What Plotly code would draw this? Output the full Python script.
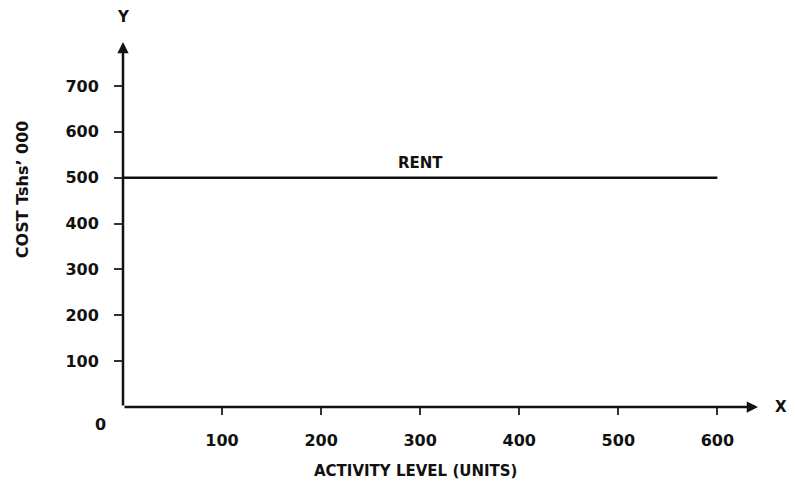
import plotly.graph_objects as go

# Data
activity = [0, 600]
rent = [500, 500]
x_ticks = [100, 200, 300, 400, 500, 600]
y_ticks = [100, 200, 300, 400, 500, 600, 700]
line_label = "RENT"
x_title = "ACTIVITY LEVEL (UNITS)"
y_title = "COST Tshs’ 000"

FONT = "DejaVu Sans"
X_MAX = 641
Y_MAX = 796

fig = go.Figure()
fig.add_trace(go.Scatter(x=activity, y=rent, mode="lines",
                         line=dict(color="#111", width=2.5),
                         showlegend=False, hoverinfo="skip", cliponaxis=False))

# page body has a default 8px margin, so the figure is shrunk to fit
fig.update_layout(
    width=779, height=473,
    margin=dict(l=115, r=29, t=34, b=74, autoexpand=False),
    plot_bgcolor="white", paper_bgcolor="white",
    font=dict(family=FONT, color="#111", size=16, weight="bold"),
    xaxis=dict(range=[0, X_MAX], tickvals=x_ticks, ticktext=[str(v) for v in x_ticks],
               showgrid=False, zeroline=False, showline=False, automargin=False,
               ticks="outside", ticklen=7, tickwidth=1.5, tickcolor="#333",
               tickfont=dict(size=16, family=FONT, weight="bold"), ticklabelstandoff=12),
    yaxis=dict(range=[0, Y_MAX], tickvals=y_ticks, ticktext=[str(v) for v in y_ticks],
               showgrid=False, zeroline=False, showline=False, automargin=False,
               ticks="outside", ticklen=8, tickwidth=1.5, tickcolor="#333",
               tickfont=dict(size=16, family=FONT, weight="bold"), ticklabelstandoff=12),
)

# axes with arrows
fig.add_annotation(x=X_MAX, y=0, ax=0, ay=0, xref="x", yref="y", axref="x", ayref="y",
                   text="", showarrow=True, arrowhead=2, arrowsize=0.9, arrowwidth=2.5,
                   arrowcolor="#111", standoff=0, startstandoff=0)
fig.add_annotation(x=0, y=Y_MAX, ax=0, ay=0, xref="x", yref="y", axref="x", ayref="y",
                   text="", showarrow=True, arrowhead=2, arrowsize=0.9, arrowwidth=2.5,
                   arrowcolor="#111", standoff=0, startstandoff=0)

# labels
fig.add_annotation(x=300, y=500, xref="x", yref="y", text=line_label, showarrow=False,
                   yanchor="bottom", yshift=4, font=dict(size=15, family=FONT, weight="bold"))
fig.add_annotation(x=295, y=-0.174, xref="x", yref="paper", text=x_title, showarrow=False,
                   xanchor="center", yanchor="middle",
                   font=dict(size=15, family=FONT, weight="bold"))
fig.add_annotation(x=-0.159, y=0.597, xref="paper", yref="paper", text=y_title, showarrow=False,
                   xanchor="center", yanchor="middle", textangle=-90,
                   font=dict(size=16, family=FONT, weight="bold"))
fig.add_annotation(x=0, y=1, xref="x", yref="paper", text="Y", showarrow=False,
                   xanchor="center", yanchor="middle", yshift=25,
                   font=dict(size=15, family=FONT, weight="bold"))
fig.add_annotation(x=1.0, y=0, xref="paper", yref="y", text="X", showarrow=False,
                   xanchor="left", yanchor="middle", xshift=15,
                   font=dict(size=15, family=FONT, weight="bold"))
fig.add_annotation(x=0, y=0, xref="x", yref="y", text="0", showarrow=False,
                   xanchor="center", yanchor="middle", xshift=-23, yshift=-17,
                   font=dict(size=16, family=FONT, weight="bold"))

fig.write_html("out.html")
